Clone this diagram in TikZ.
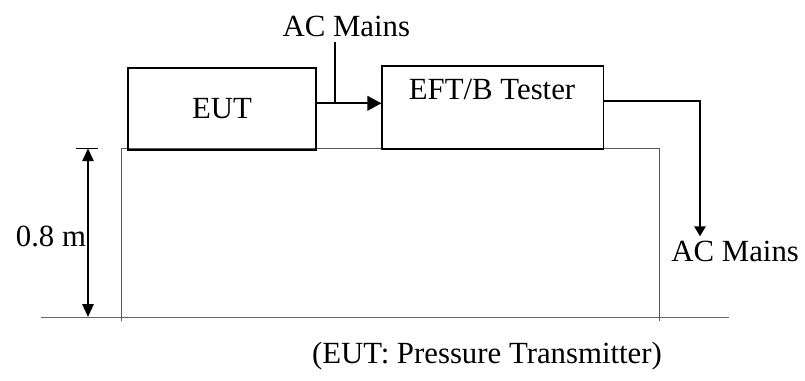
\documentclass[tikz,border=0pt]{standalone}
\usepackage{fontspec}
\setmainfont{Liberation Serif}
\usetikzlibrary{arrows.meta}
\begin{document}
\begin{tikzpicture}[x=0.025cm,y=-0.025cm,
    every node/.style={font=\fontsize{21.9pt}{26pt}\selectfont},
    unitbox/.style={draw,line width=0.75pt,inner sep=0pt},
    bench/.style={draw=black!65,line width=0.7pt},
    floor/.style={draw=black!60,line width=1.1pt},
    feed/.style={line width=1.7pt,-{Triangle[length=0.35cm,width=0.36cm]}},
    lead/.style={line width=1.5pt,-{Triangle[length=0.25cm,width=0.28cm]}},
    dim/.style={line width=1.4pt,{Triangle[length=0.32cm,width=0.28cm]}-{Triangle[length=0.32cm,width=0.28cm]}}]
    \useasboundingbox (0,0) rectangle (805,381);

    % table and floor
    \draw[floor] (41,317.5) -- (729,317.5);
    \draw[bench] (121,320.7) -- (121,148.5) -- (659,148.5) -- (659,320.7);

    % height of the table
    \coordinate (ticka) at (76,148.3);
    \coordinate (tickb) at (98.3,148.3);
    \coordinate (dimtop) at (88,148.3);
    \coordinate (dimbot) at (88,317);
    \draw[line width=0.7pt] (ticka) -- (tickb);
    \draw[dim] (dimtop) -- (dimbot);
    \node[anchor=base east] (height) at (91,246.7) {0.8 m};

    % equipment
    \node[unitbox,minimum width=4.7cm,minimum height=2.05cm] (eut) at (222,109) {EUT};
    \node[unitbox,minimum width=5.525cm,minimum height=2.075cm] (tester) at (492.5,107.5) {};
    \node[anchor=base] (testerlabel) at (492,100) {EFT/B Tester};

    % mains
    \node[anchor=base] (mainsin) at (346.3,36.7) {AC Mains};
    \node[anchor=base west] (mainsout) at (666.5,261.7) {AC Mains};
    \coordinate (tap) at (335,103.3);
    \coordinate (turn) at (700,100.7);
    \draw[line width=0.8pt] (tap |- mainsin.south) -- (tap);
    \draw[feed] (eut.east |- tap) -- (tester.west |- tap);
    \draw[lead] (tester.east |- turn) -- (turn) -- (turn |- mainsout.north);

    \node[anchor=base] (caption) at (487,363.3) {(EUT: Pressure Transmitter)};
\end{tikzpicture}
\end{document}
